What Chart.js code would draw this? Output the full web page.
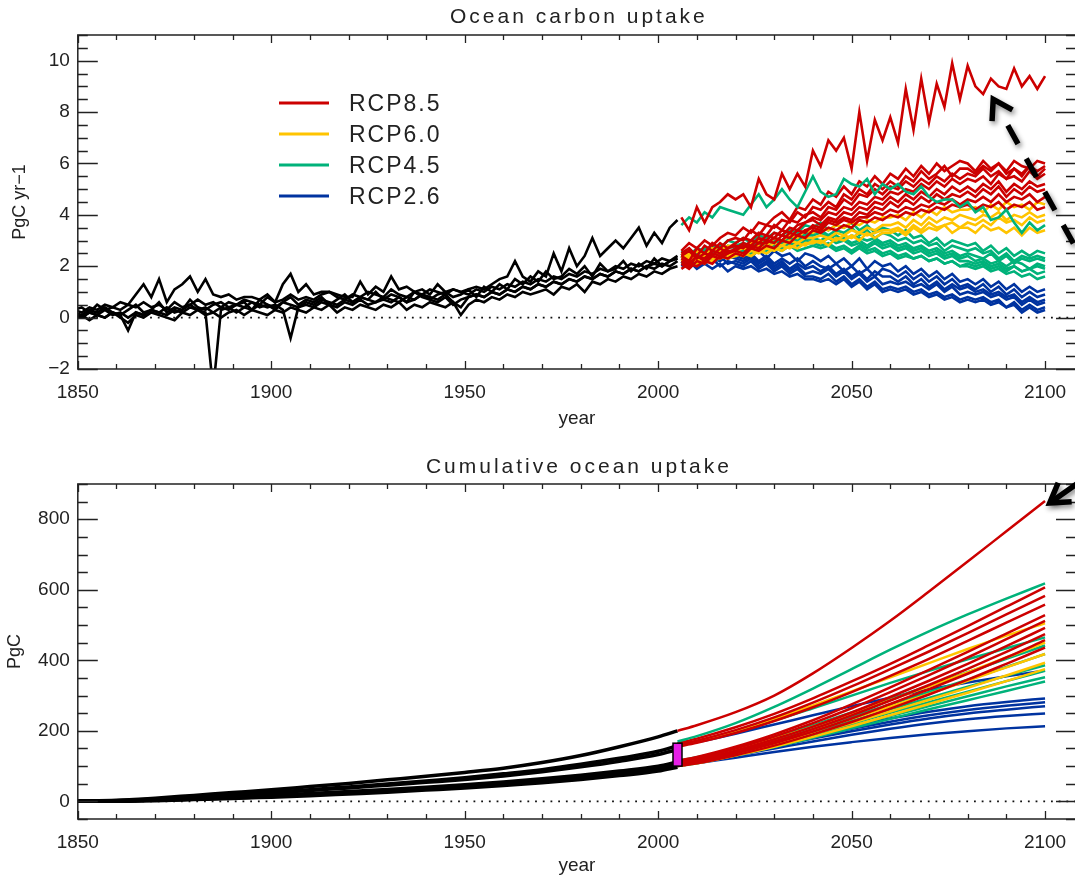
<!DOCTYPE html>
<html>
<head>
<meta charset="utf-8">
<script src="https://cdn.jsdelivr.net/npm/chart.js@4.4.1/dist/chart.umd.min.js"></script>
<style>
  html, body { margin: 0; padding: 0; background: #fff; overflow: hidden; }
  #wrap { position: relative; width: 1075px; height: 879px; overflow: hidden; }
  canvas { position: absolute; left: 0; }
</style>
</head>
<body>
<div id="wrap">
  <canvas id="uptake" width="1080" height="440" style="top:0"></canvas>
  <canvas id="cumulative" width="1080" height="439" style="top:440px"></canvas>
</div>
<script>
// ---- axes ----
const yearTicks = [1850, 1900, 1950, 2000, 2050, 2100];
const uptakeTicks = [-2, 0, 2, 4, 6, 8, 10];
const cumTicks = [0, 200, 400, 600, 800];

const scenarioNames = ['RCP8.5', 'RCP6.0', 'RCP4.5', 'RCP2.6'];
const scenarioColors = ['#cc0000', '#ffc400', '#00b27a', '#0033a0'];

// ---- annual ocean uptake (PgC/yr) ----
// historical runs, one value every 2 years, last value is 2005
const histLast = 2005;
const histRuns = [
  [0.3, 0.2, 0.4, 0.3, 0.5, 0.4, 0.6, 0.5, 0.9, 1.3,
   0.8, 1.5, 0.6, 1.1, 1.3, 1.6, 1.0, 1.5, 0.9, 0.8,
   0.9, 0.7, 0.8, 0.8, 0.7, 0.9, 0.6, 1.3, 1.7, 1.0,
   1.3, 0.9, 1.0, 1.0, 0.9, 0.8, 0.8, 1.4, 0.9, 1.2,
   1.0, 1.6, 1.1, 1.2, 1.0, 1.1, 0.9, 1.3, 1.0, 1.1,
   1.0, 1.1, 1.2, 1.1, 1.3, 1.5, 1.6, 2.2, 1.6, 1.4,
   1.8, 1.6, 2.5, 1.8, 2.7, 2.0, 2.4, 3.1, 2.4, 2.7,
   3.0, 2.7, 3.1, 3.5, 2.8, 3.3, 2.9, 3.5, 3.8],
  [0.1, 0.0, 0.2, 0.1, 0.0, 0.2, 0.1, -0.5, 0.2, 0.1,
   0.3, 0.2, 0.1, 0.3, 0.2, 0.4, 0.3, 0.2, -2.8, 0.3,
   0.4, 0.2, 0.4, 0.3, 0.5, 0.4, 0.5, 0.3, -0.8, 0.4,
   0.5, 0.4, 0.6, 0.5, 0.4, 0.6, 0.5, 0.7, 0.5, 0.6,
   0.7, 0.6, 0.8, 0.6, 0.7, 0.9, 0.7, 0.6, 0.8, 0.5,
   0.7, 0.8, 0.9, 0.8, 1.0, 0.9, 1.1, 1.0, 1.2, 1.1,
   1.3, 1.2, 1.4, 1.3, 1.5, 1.4, 1.6, 1.5, 1.7, 1.6,
   1.8, 1.7, 1.9, 1.8, 2.0, 1.9, 2.1, 2.0, 2.2],
  [0.1, 0.0, 0.2, 0.1, 0.3, 0.1, 0.2, 0.0, 0.2, 0.1,
   0.3, 0.2, 0.4, 0.2, 0.3, 0.5, 0.3, 0.4, 0.2, 0.4,
   0.3, 0.5, 0.4, 0.6, 0.4, 0.5, 0.3, 0.6, 0.5, 0.4,
   0.6, 0.5, 0.7, 0.6, 0.5, 0.7, 0.6, 0.8, 0.7, 0.6,
   0.8, 0.7, 0.6, 0.8, 0.7, 0.9, 0.8, 0.7, 0.9, 0.6,
   0.4, 0.8, 0.9, 0.8, 1.0, 0.9, 1.1, 1.0, 1.2, 1.1,
   1.3, 1.2, 1.4, 1.3, 1.5, 1.4, 1.6, 1.5, 1.7, 1.6,
   1.8, 1.7, 1.9, 1.8, 2.0, 2.1, 2.0, 2.2, 2.3],
  [0.3, 0.4, 0.2, 0.5, 0.3, 0.4, 0.3, 0.5, 0.4, 0.6,
   0.4, 0.5, 0.3, 0.6, 0.4, 0.5, 0.7, 0.5, 0.6, 0.4,
   0.6, 0.5, 0.7, 0.6, 0.5, 0.8, 0.6, 0.7, 0.9, 0.7,
   0.8, 0.7, 0.9, 1.0, 0.8, 0.7, 0.9, 0.8, 1.0, 0.9,
   0.8, 1.1, 0.9, 0.8, 1.0, 0.9, 1.1, 1.0, 0.9, 1.1,
   1.0, 0.9, 1.1, 1.0, 1.2, 1.1, 1.3, 1.2, 1.4, 1.3,
   1.5, 1.4, 1.6, 1.5, 1.7, 1.6, 1.8, 1.7, 1.9, 1.8,
   2.0, 1.9, 2.1, 2.0, 2.2, 2.1, 2.3, 2.2, 2.4],
  [0.0, 0.1, -0.1, 0.1, 0.0, 0.2, 0.0, -0.2, 0.1, 0.0,
   0.2, 0.1, 0.0, -0.1, 0.2, 0.1, 0.3, 0.1, 0.2, 0.0,
   0.2, 0.3, 0.1, 0.3, 0.2, 0.1, 0.3, 0.2, 0.4, 0.3,
   0.2, 0.4, 0.3, 0.5, 0.2, 0.4, 0.3, 0.5, 0.4, 0.3,
   0.5, 0.4, 0.6, 0.3, 0.5, 0.4, 0.6, 0.5, 0.4, 0.6,
   0.1, 0.5, 0.7, 0.6, 0.8, 0.7, 0.9, 0.8, 1.0, 0.9,
   1.0, 1.1, 0.9, 1.2, 1.1, 1.3, 1.0, 1.4, 1.3, 1.5,
   1.4, 1.6, 1.5, 1.7, 1.6, 1.8, 1.7, 1.9, 2.0],
  [0.2, 0.1, 0.3, 0.2, 0.4, 0.2, 0.1, 0.3, 0.5, 0.2,
   0.3, 0.6, 0.2, 0.4, 0.3, 0.7, 0.4, 0.3, 0.5, 0.6,
   0.4, 0.5, 0.6, 0.3, 0.7, 0.5, 0.4, 0.6, 0.8, 0.5,
   0.7, 0.6, 0.8, 0.5, 0.7, 0.9, 0.6, 0.8, 0.7, 1.0,
   0.7, 0.9, 0.8, 0.6, 1.0, 0.8, 0.7, 0.9, 1.0, 0.8,
   0.9, 1.1, 0.8, 1.2, 1.0, 1.3, 1.1, 1.5, 1.3, 1.6,
   1.4, 1.8, 1.5, 1.6, 1.9, 1.7, 2.0, 1.6, 2.1, 1.8,
   1.9, 2.2, 1.8, 2.1, 1.9, 2.3, 2.0, 2.2, 2.3]
];

// scenario runs, one value every 2 years from 2006 to 2100
const scenFirst = 2006;
const rcp85Runs = [
  [3.9, 3.4, 4.3, 3.7, 4.3, 4.5, 4.8, 4.6,
   4.8, 4.3, 5.4, 4.8, 4.6, 5.6, 5.0, 5.6, 5.1, 6.5,
   5.9, 6.9, 6.5, 7.0, 5.8, 8.0, 6.1, 7.7, 6.9, 7.8,
   6.8, 8.9, 7.3, 9.3, 7.6, 9.1, 8.2, 9.9, 8.5, 9.8,
   9.0, 8.7, 9.3, 9.0, 8.9, 9.7, 9.0, 9.4, 8.9, 9.4],
  [2.6, 2.9, 2.7, 3.0, 2.8, 3.1, 3.3, 3.2,
   3.5, 3.3, 3.7, 3.6, 3.9, 4.1, 3.8, 4.3, 4.2, 4.6,
   4.4, 4.9, 4.7, 5.1, 4.8, 5.3, 5.1, 5.5, 5.2, 5.6,
   5.4, 5.8, 5.5, 5.9, 5.6, 6.0, 5.7, 5.9, 6.1, 6.0,
   5.7, 6.1, 5.8, 6.0, 5.7, 6.1, 5.9, 5.8, 6.1, 6.0],
  [2.4, 2.2, 2.7, 2.5, 2.9, 2.7, 3.0, 3.1,
   3.0, 3.4, 3.2, 3.6, 3.5, 3.8, 3.7, 4.1, 3.9, 4.3,
   4.2, 4.5, 4.3, 4.8, 4.6, 5.0, 4.8, 5.2, 5.0, 5.3,
   5.1, 5.5, 5.3, 5.7, 5.4, 5.6, 5.9, 5.5, 5.8, 5.8,
   5.6, 5.9, 5.7, 6.0, 5.6, 5.8, 5.5, 5.9, 5.7, 5.9],
  [2.5, 2.7, 2.4, 2.8, 2.6, 2.9, 2.7, 2.9,
   3.1, 3.0, 3.3, 3.2, 3.6, 3.4, 3.8, 3.7, 4.0, 4.1,
   3.9, 4.3, 4.2, 4.6, 4.4, 4.8, 4.7, 5.0, 4.8, 5.1,
   5.0, 5.3, 5.1, 5.4, 5.2, 5.5, 5.3, 5.6, 5.4, 5.6,
   5.5, 5.8, 5.5, 5.7, 5.4, 5.8, 5.6, 5.9, 5.5, 5.8],
  [2.2, 2.0, 2.4, 2.3, 2.6, 2.5, 2.7, 2.8,
   2.7, 3.0, 2.9, 3.2, 3.1, 3.4, 3.3, 3.6, 3.7, 3.9,
   3.8, 4.1, 4.0, 4.3, 4.2, 4.5, 4.4, 4.7, 4.6, 4.9,
   4.8, 5.0, 4.9, 5.2, 5.0, 5.3, 5.1, 5.4, 5.2, 5.4,
   5.3, 5.5, 5.2, 5.6, 5.4, 5.5, 5.3, 5.7, 5.4, 5.6],
  [2.4, 2.6, 2.3, 2.5, 2.4, 2.7, 2.5, 2.7,
   2.9, 2.8, 3.1, 3.0, 3.3, 3.2, 3.5, 3.4, 3.7, 3.8,
   3.6, 3.9, 3.8, 4.1, 4.0, 4.3, 4.2, 4.5, 4.4, 4.7,
   4.5, 4.8, 4.6, 4.9, 4.7, 5.0, 4.8, 5.1, 4.9, 5.1,
   4.9, 5.2, 5.0, 5.3, 4.9, 5.2, 5.0, 5.3, 5.1, 5.2],
  [2.1, 1.9, 2.2, 2.1, 2.4, 2.3, 2.5, 2.6,
   2.5, 2.8, 2.7, 3.0, 2.9, 3.2, 3.1, 3.4, 3.3, 3.6,
   3.5, 3.8, 3.7, 3.9, 3.8, 4.1, 4.0, 4.3, 4.2, 4.5,
   4.3, 4.6, 4.4, 4.7, 4.5, 4.8, 4.6, 4.8, 4.7, 4.9,
   4.7, 5.0, 4.8, 5.1, 4.7, 5.0, 4.8, 5.1, 4.9, 5.0],
  [2.3, 2.1, 2.4, 2.2, 2.5, 2.4, 2.6, 2.6,
   2.8, 2.7, 2.9, 2.9, 3.1, 3.0, 3.3, 3.2, 3.4, 3.5,
   3.4, 3.7, 3.6, 3.8, 3.7, 3.9, 3.9, 4.1, 4.0, 4.2,
   4.1, 4.3, 4.2, 4.4, 4.3, 4.5, 4.4, 4.6, 4.4, 4.6,
   4.5, 4.7, 4.5, 4.8, 4.5, 4.7, 4.6, 4.8, 4.5, 4.7],
  [1.9, 2.1, 2.0, 2.2, 2.1, 2.4, 2.3, 2.5,
   2.4, 2.7, 2.6, 2.8, 2.7, 3.0, 2.9, 3.2, 3.1, 3.4,
   3.3, 3.5, 3.4, 3.6, 3.5, 3.8, 3.7, 3.9, 3.8, 4.0,
   3.9, 4.1, 4.0, 4.2, 4.1, 4.3, 4.2, 4.4, 4.3, 4.4,
   4.2, 4.4, 4.3, 4.5, 4.2, 4.4, 4.3, 4.5, 4.2, 4.3]
];
const rcp60Runs = [
  [2.5, 2.3, 2.6, 2.4, 2.7, 2.6, 2.8, 2.8,
   2.7, 2.9, 3.0, 2.8, 3.1, 3.0, 3.2, 3.1, 3.4, 3.3,
   3.5, 3.4, 3.6, 3.5, 3.7, 3.6, 3.8, 3.7, 3.9, 3.9,
   4.0, 3.8, 4.1, 3.9, 4.2, 4.0, 4.3, 4.1, 4.2, 4.2,
   4.3, 4.1, 4.4, 4.2, 4.5, 4.3, 4.4, 4.2, 4.5, 4.4],
  [2.3, 2.5, 2.2, 2.4, 2.3, 2.6, 2.4, 2.6,
   2.7, 2.6, 2.8, 2.7, 2.9, 2.8, 3.0, 2.9, 3.1, 3.1,
   3.2, 3.1, 3.3, 3.2, 3.4, 3.3, 3.5, 3.4, 3.6, 3.6,
   3.7, 3.5, 3.8, 3.6, 3.9, 3.7, 3.9, 3.8, 4.0, 3.9,
   3.8, 4.0, 3.9, 4.1, 3.8, 4.0, 3.9, 4.1, 3.9, 4.0],
  [2.4, 2.2, 2.3, 2.1, 2.4, 2.3, 2.5, 2.5,
   2.4, 2.6, 2.5, 2.7, 2.6, 2.8, 2.7, 2.9, 2.8, 3.0,
   2.9, 3.1, 3.0, 3.2, 3.1, 3.3, 3.2, 3.3, 3.4, 3.4,
   3.5, 3.3, 3.6, 3.4, 3.7, 3.5, 3.6, 3.7, 3.5, 3.7,
   3.6, 3.8, 3.6, 3.9, 3.7, 3.8, 3.6, 3.9, 3.7, 3.8],
  [2.2, 2.4, 2.1, 2.3, 2.2, 2.4, 2.3, 2.4,
   2.5, 2.4, 2.6, 2.5, 2.7, 2.6, 2.8, 2.7, 2.9, 2.9,
   3.0, 2.8, 3.1, 3.0, 3.2, 3.0, 3.3, 3.1, 3.3, 3.3,
   3.4, 3.2, 3.5, 3.3, 3.5, 3.4, 3.6, 3.3, 3.5, 3.5,
   3.3, 3.6, 3.4, 3.5, 3.3, 3.5, 3.2, 3.5, 3.3, 3.4]
];
const rcp45Runs = [
  [3.6, 3.9, 3.7, 4.1, 3.9, 4.3, 4.2, 4.1,
   4.0, 4.4, 4.8, 4.3, 4.6, 5.0, 4.6, 4.3, 4.9, 5.5,
   4.9, 4.7, 4.8, 5.4, 5.2, 5.1, 5.4, 4.8, 5.2, 5.0,
   5.2, 4.9, 4.8, 5.1, 4.7, 4.5, 4.6, 4.6, 4.3, 4.5,
   4.1, 4.3, 3.8, 3.9, 4.2, 3.7, 3.3, 3.7, 3.4, 3.6],
  [2.6, 2.4, 2.7, 2.6, 2.8, 2.7, 3.0, 2.9,
   3.1, 2.9, 3.2, 3.1, 3.3, 3.2, 3.4, 3.3, 3.6, 3.5,
   3.7, 3.4, 3.6, 3.5, 3.7, 3.4, 3.6, 3.3, 3.5, 3.4,
   3.2, 3.4, 3.1, 3.2, 2.9, 3.1, 2.8, 3.0, 2.9, 2.8,
   2.9, 2.6, 2.8, 2.5, 2.7, 2.4, 2.6, 2.4, 2.6, 2.5],
  [2.4, 2.6, 2.5, 2.7, 2.6, 2.8, 2.7, 2.8,
   2.9, 2.8, 3.0, 2.9, 3.1, 3.0, 3.2, 3.1, 3.3, 3.3,
   3.4, 3.2, 3.4, 3.3, 3.5, 3.2, 3.4, 3.1, 3.3, 3.2,
   3.0, 3.1, 2.9, 3.0, 2.8, 2.9, 2.6, 2.8, 2.7, 2.6,
   2.7, 2.5, 2.6, 2.3, 2.5, 2.2, 2.4, 2.3, 2.4, 2.3],
  [2.5, 2.3, 2.6, 2.4, 2.7, 2.5, 2.8, 2.7,
   2.8, 2.7, 2.9, 2.8, 3.0, 2.9, 3.1, 3.0, 3.2, 3.2,
   3.3, 3.1, 3.2, 3.0, 3.2, 3.1, 3.0, 3.1, 2.9, 3.0,
   2.8, 2.9, 2.7, 2.8, 2.6, 2.7, 2.5, 2.6, 2.4, 2.5,
   2.4, 2.3, 2.5, 2.2, 2.4, 2.1, 2.3, 2.2, 2.3, 2.2],
  [2.3, 2.5, 2.4, 2.6, 2.5, 2.7, 2.5, 2.6,
   2.8, 2.7, 2.9, 2.8, 3.0, 2.9, 3.1, 2.9, 3.0, 3.1,
   3.0, 3.2, 3.0, 3.1, 2.9, 3.0, 2.8, 3.0, 2.8, 2.9,
   2.7, 2.8, 2.6, 2.7, 2.5, 2.6, 2.4, 2.5, 2.3, 2.4,
   2.2, 2.3, 2.1, 2.2, 2.0, 2.2, 2.1, 1.9, 2.1, 2.0],
  [2.2, 2.4, 2.3, 2.5, 2.4, 2.6, 2.5, 2.6,
   2.7, 2.6, 2.8, 2.7, 2.9, 2.8, 3.0, 2.8, 2.9, 3.0,
   2.9, 3.1, 2.9, 3.0, 2.8, 2.9, 2.7, 2.9, 2.7, 2.8,
   2.6, 2.7, 2.5, 2.6, 2.4, 2.5, 2.3, 2.4, 2.2, 2.2,
   2.1, 2.2, 2.0, 2.1, 1.9, 2.0, 1.8, 1.9, 1.7, 1.8],
  [2.4, 2.2, 2.4, 2.3, 2.5, 2.4, 2.6, 2.5,
   2.6, 2.5, 2.7, 2.6, 2.8, 2.7, 2.9, 2.8, 2.9, 2.9,
   2.8, 2.9, 2.7, 2.8, 2.6, 2.8, 2.6, 2.7, 2.5, 2.6,
   2.4, 2.5, 2.3, 2.4, 2.2, 2.3, 2.1, 2.2, 2.0, 2.0,
   1.9, 2.0, 1.8, 1.9, 1.7, 1.8, 1.6, 1.7, 1.5, 1.6],
  [2.1, 2.3, 2.2, 2.4, 2.2, 2.3, 2.5, 2.4,
   2.5, 2.4, 2.6, 2.5, 2.7, 2.6, 2.8, 2.6, 2.7, 2.8,
   2.7, 2.8, 2.6, 2.7, 2.5, 2.7, 2.5, 2.6, 2.4, 2.5,
   2.3, 2.4, 2.3, 2.4, 2.2, 2.3, 2.1, 2.2, 2.0, 2.1,
   2.0, 2.1, 1.9, 2.0, 1.8, 2.0, 1.8, 1.9, 2.0, 1.9]
];
const rcp26Runs = [
  [2.4, 2.2, 2.5, 2.3, 2.6, 2.4, 2.6, 2.5,
   2.7, 2.4, 2.6, 2.3, 2.6, 2.4, 2.5, 2.2, 2.5, 2.4,
   2.2, 2.4, 2.1, 2.3, 2.0, 2.3, 1.9, 2.2, 2.0, 2.1,
   1.8, 2.0, 1.7, 1.9, 1.6, 1.8, 1.5, 1.7, 1.4, 1.5,
   1.3, 1.5, 1.2, 1.4, 1.1, 1.3, 1.0, 1.2, 1.0, 1.1],
  [2.3, 2.5, 2.2, 2.4, 2.3, 2.5, 2.3, 2.4,
   2.3, 2.5, 2.2, 2.4, 2.1, 2.3, 2.1, 2.3, 2.0, 2.2,
   2.0, 1.9, 2.1, 1.8, 2.0, 1.7, 1.9, 1.6, 1.9, 1.8,
   1.6, 1.8, 1.5, 1.7, 1.4, 1.6, 1.3, 1.5, 1.2, 1.3,
   1.1, 1.3, 1.0, 1.2, 0.9, 1.1, 0.8, 1.0, 0.8, 0.9],
  [2.5, 2.2, 2.4, 2.1, 2.3, 2.2, 2.4, 2.3,
   2.2, 2.4, 2.1, 2.3, 2.0, 2.2, 1.9, 2.1, 1.9, 2.0,
   1.8, 2.0, 1.7, 1.9, 1.6, 1.8, 1.5, 1.8, 1.6, 1.6,
   1.4, 1.6, 1.3, 1.5, 1.2, 1.4, 1.1, 1.3, 1.1, 1.2,
   1.0, 1.1, 0.9, 1.0, 0.8, 0.9, 0.6, 0.8, 0.6, 0.7],
  [2.1, 2.3, 2.1, 2.3, 2.2, 2.4, 2.1, 2.2,
   2.1, 2.3, 2.0, 2.2, 1.9, 2.1, 1.8, 2.0, 1.7, 1.8,
   1.7, 1.9, 1.6, 1.8, 1.5, 1.7, 1.4, 1.6, 1.3, 1.4,
   1.3, 1.4, 1.2, 1.3, 1.1, 1.3, 1.0, 1.2, 0.9, 1.0,
   0.9, 1.0, 0.8, 0.9, 0.7, 0.8, 0.5, 0.7, 0.5, 0.6],
  [2.2, 2.0, 2.3, 2.1, 2.3, 2.0, 2.2, 2.1,
   2.0, 2.2, 1.9, 2.1, 1.8, 2.0, 1.7, 1.9, 1.6, 1.6,
   1.5, 1.7, 1.4, 1.6, 1.3, 1.5, 1.2, 1.4, 1.1, 1.2,
   1.1, 1.2, 1.0, 1.1, 0.9, 1.0, 0.8, 0.9, 0.7, 0.8,
   0.7, 0.8, 0.6, 0.7, 0.4, 0.6, 0.3, 0.5, 0.3, 0.4],
  [2.0, 2.2, 1.9, 2.1, 1.9, 2.1, 1.8, 2.0,
   1.9, 2.0, 1.8, 1.9, 1.7, 1.8, 1.6, 1.7, 1.5, 1.5,
   1.4, 1.5, 1.3, 1.5, 1.2, 1.4, 1.1, 1.3, 1.0, 1.1,
   1.0, 1.1, 0.9, 1.0, 0.8, 0.9, 0.7, 0.8, 0.6, 0.7,
   0.6, 0.7, 0.5, 0.6, 0.4, 0.5, 0.2, 0.4, 0.2, 0.3]
];

// ---- cumulative ocean uptake (PgC) ----
const cumHistYears = [1850, 1860, 1870, 1880, 1890, 1900, 1910, 1920, 1930,
                      1940, 1950, 1960, 1970, 1980, 1990, 2000, 2005];
const cumScenYears = [2005, 2010, 2020, 2030, 2040, 2050, 2060, 2070, 2080, 2090, 2100];
const cumHist = [
  [0, 3, 9, 17, 25, 33, 42, 51, 61, 71, 82, 94, 110, 130, 155, 183, 200],
  [0, 2, 7, 13, 19, 26, 33, 41, 49, 58, 67, 78, 90, 105, 122, 142, 158],
  [0, 2, 6, 12, 18, 24, 31, 38, 46, 54, 62, 72, 84, 98, 114, 133, 147],
  [0, 1, 4, 8, 12, 17, 22, 28, 34, 40, 47, 55, 64, 74, 86, 100, 112],
  [0, 1, 3, 7, 11, 15, 20, 25, 31, 37, 44, 51, 60, 70, 82, 95, 106],
  [0, 1, 3, 6, 10, 14, 19, 24, 29, 35, 41, 48, 56, 66, 77, 90, 101],
  [0, 0, 2, 5, 8, 12, 16, 21, 26, 32, 38, 45, 53, 62, 73, 86, 97]
];
const cum85 = [
  [200, 216, 253, 300, 363, 435, 512, 595, 680, 766, 852],
  [165, 178, 210, 248, 292, 340, 390, 443, 497, 552, 607],
  [160, 172, 202, 238, 280, 326, 375, 425, 477, 530, 583],
  [155, 166, 194, 228, 267, 310, 356, 404, 455, 507, 558],
  [115, 126, 155, 190, 230, 275, 323, 373, 424, 476, 528],
  [112, 122, 150, 184, 222, 264, 310, 358, 408, 460, 512],
  [108, 118, 144, 176, 212, 252, 296, 342, 390, 440, 492],
  [105, 114, 140, 170, 205, 244, 286, 330, 376, 424, 474],
  [102, 111, 136, 165, 198, 235, 276, 318, 362, 408, 457],
  [100, 108, 131, 158, 190, 225, 263, 303, 345, 390, 436]
];
const cum60 = [
  [160, 171, 200, 234, 272, 312, 352, 392, 432, 470, 505],
  [112, 122, 148, 178, 212, 249, 287, 326, 366, 408, 450],
  [108, 117, 141, 169, 200, 234, 269, 305, 342, 380, 418],
  [104, 113, 136, 162, 191, 222, 255, 288, 322, 357, 393],
  [100, 108, 130, 155, 183, 213, 244, 276, 308, 341, 375]
];
const cum45 = [
  [170, 185, 222, 268, 320, 375, 430, 482, 530, 575, 618],
  [158, 169, 197, 229, 264, 300, 336, 370, 403, 434, 465],
  [115, 125, 151, 182, 216, 252, 290, 328, 366, 404, 442],
  [110, 120, 145, 174, 206, 240, 275, 310, 345, 381, 418],
  [106, 115, 139, 166, 196, 228, 261, 293, 325, 356, 386],
  [104, 113, 136, 162, 190, 220, 251, 281, 311, 341, 370],
  [102, 110, 133, 158, 185, 213, 242, 270, 298, 326, 352],
  [100, 108, 130, 154, 180, 207, 234, 261, 287, 313, 340]
];
const cum26 = [
  [158, 168, 192, 218, 244, 270, 294, 317, 337, 355, 371],
  [112, 121, 143, 167, 191, 214, 235, 254, 270, 282, 292],
  [108, 117, 138, 161, 184, 206, 226, 244, 259, 271, 281],
  [105, 114, 134, 156, 178, 199, 218, 235, 249, 260, 270],
  [103, 111, 130, 150, 170, 189, 206, 221, 233, 242, 249],
  [100, 108, 124, 140, 155, 168, 180, 190, 199, 207, 213]
];

// spread of the historical runs at the end of 2005 (PgC)
const histSpread2005 = { year: 2005, low: 100, high: 165 };

// arrows, in data units [year, value]
const uptakeArrow = { from: [2111.7, 1.7], to: [2086.6, 8.5], dashed: true };
const cumArrow = { from: [2110.5, 918], to: [2101.2, 846], dashed: false };

// ---- helpers ----
const FONT = '"Liberation Sans", Arial, sans-serif';
const INK = '#222';

function histPoints(vals) {
  const n = vals.length;
  return vals.map((v, i) => ({ x: histLast - 2 * (n - 1 - i), y: v }));
}
function scenPoints(vals) {
  return vals.map((v, i) => ({ x: scenFirst + 2 * i, y: v }));
}
function yearPoints(years, vals) {
  return vals.map((v, i) => ({ x: years[i], y: v }));
}
function line(data, color, width, extra) {
  return Object.assign({ data, borderColor: color, borderWidth: width, pointRadius: 0, fill: false, tension: 0 }, extra || {});
}

// IDL-style frame: inward ticks on all four sides, dotted zero line, title, legend, arrow
const idlFrame = {
  id: 'idlFrame',
  beforeDatasetsDraw(chart, args, o) {
    const { ctx, chartArea: a, scales: { y } } = chart;
    const y0 = y.getPixelForValue(0);
    ctx.save();
    ctx.strokeStyle = '#111';
    ctx.lineWidth = 1.8;
    ctx.setLineDash([1.8, 5.9]);
    ctx.beginPath();
    ctx.moveTo(a.left + 3, y0);
    ctx.lineTo(a.right, y0);
    ctx.stroke();
    ctx.restore();
  },
  afterDraw(chart, args, o) {
    const { ctx, chartArea: a, scales: { x, y } } = chart;
    ctx.save();
    ctx.strokeStyle = INK;
    ctx.lineWidth = 1.5;
    ctx.strokeRect(a.left, a.top, a.right - a.left, a.bottom - a.top);

    ctx.beginPath();
    for (let v = x.min; v <= x.max; v += o.xMinor) {
      const px = Math.round(x.getPixelForValue(v)) + 0.5;
      const len = v % o.xMajor === 0 ? 8 : 5;
      ctx.moveTo(px, a.bottom); ctx.lineTo(px, a.bottom - len);
      ctx.moveTo(px, a.top); ctx.lineTo(px, a.top + len);
    }
    for (let k = Math.ceil(y.min / o.yMinor); k * o.yMinor <= y.max + 1e-9; k++) {
      const v = k * o.yMinor;
      const py = Math.round(y.getPixelForValue(v)) + 0.5;
      const len = Math.abs(v % o.yMajor) < 1e-9 ? 20 : 10;
      ctx.moveTo(a.left, py); ctx.lineTo(a.left + len, py);
      ctx.moveTo(a.right, py); ctx.lineTo(a.right - len, py);
    }
    ctx.lineWidth = 1.3;
    ctx.stroke();

    // spread marker at the end of the historical period
    if (o.marker) {
      const mx = x.getPixelForValue(o.marker.year);
      const top = y.getPixelForValue(o.marker.high);
      const bot = y.getPixelForValue(o.marker.low);
      ctx.fillStyle = '#e61ee6';
      ctx.fillRect(mx - 4.5, top, 9, bot - top);
      ctx.strokeStyle = '#000';
      ctx.lineWidth = 1.5;
      ctx.strokeRect(mx - 4.5, top, 9, bot - top);
    }

    // title
    ctx.fillStyle = INK;
    ctx.font = '21px ' + FONT;
    ctx.letterSpacing = '3px';
    ctx.textAlign = 'center';
    ctx.textBaseline = 'middle';
    ctx.fillText(o.title, (a.left + a.right) / 2 + 2, o.titleY);

    // scenario legend
    if (o.legend) {
      ctx.font = '23px ' + FONT;
      ctx.letterSpacing = '2px';
      ctx.textAlign = 'left';
      scenarioNames.forEach((name, i) => {
        const ly = o.legend.y + i * o.legend.gap;
        ctx.strokeStyle = scenarioColors[i];
        ctx.lineWidth = 3;
        ctx.beginPath();
        ctx.moveTo(o.legend.x, ly);
        ctx.lineTo(o.legend.x + 50, ly);
        ctx.stroke();
        ctx.fillText(name, o.legend.x + 70, ly + 2);
      });
    }

    // annotation arrow
    if (o.arrow) {
      const x1 = x.getPixelForValue(o.arrow.from[0]), y1 = y.getPixelForValue(o.arrow.from[1]);
      const x2 = x.getPixelForValue(o.arrow.to[0]), y2 = y.getPixelForValue(o.arrow.to[1]);
      const ang = Math.atan2(y1 - y2, x1 - x2);
      ctx.shadowColor = 'rgba(0,0,0,0.45)';
      ctx.shadowBlur = 5;
      ctx.shadowOffsetX = 2;
      ctx.shadowOffsetY = 3;
      ctx.strokeStyle = '#000';
      ctx.lineWidth = 5.5;
      ctx.beginPath();
      if (o.arrow.dashed) {
        ctx.setLineDash([21, 17]);
        ctx.moveTo(x2 + 30 * Math.cos(ang), y2 + 30 * Math.sin(ang));
      } else {
        ctx.moveTo(x2 + 3 * Math.cos(ang), y2 + 3 * Math.sin(ang));
      }
      ctx.lineTo(x1, y1);
      ctx.stroke();
      ctx.setLineDash([]);
      const arm = 22, spread = 0.56;
      ctx.lineJoin = 'miter';
      ctx.beginPath();
      ctx.moveTo(x2 + arm * Math.cos(ang - spread), y2 + arm * Math.sin(ang - spread));
      ctx.lineTo(x2, y2);
      ctx.lineTo(x2 + arm * Math.cos(ang + spread), y2 + arm * Math.sin(ang + spread));
      ctx.stroke();
    }
    ctx.restore();
  }
};

function makeChart(id, datasets, cfg) {
  const tickFont = { family: FONT, size: 19 };
  return new Chart(document.getElementById(id), {
    type: 'line',
    data: { datasets },
    plugins: [idlFrame],
    options: {
      responsive: false,
      animation: false,
      events: [],
      layout: { padding: { top: cfg.padTop, right: 4, bottom: 0, left: 0 } },
      plugins: {
        legend: { display: false },
        tooltip: { enabled: false },
        idlFrame: cfg.frame
      },
      scales: {
        x: {
          type: 'linear', min: 1850, max: 2108,
          grid: { display: false, drawTicks: false },
          border: { display: false },
          afterBuildTicks: s => { s.ticks = yearTicks.map(v => ({ value: v })); },
          afterFit: s => { s.height = cfg.xHeight; },
          ticks: { font: tickFont, color: INK, padding: cfg.xTickPad, maxRotation: 0, autoSkip: false,
                   callback: v => String(v) },
          title: { display: true, text: 'year', font: tickFont, color: INK,
                   padding: { top: 0, bottom: cfg.yearPad } }
        },
        y: {
          type: 'linear', min: cfg.yMin, max: cfg.yMax,
          grid: { display: false, drawTicks: false },
          border: { display: false },
          afterBuildTicks: s => { s.ticks = cfg.yTicks.map(v => ({ value: v })); },
          afterFit: s => { s.width = 77.8; },
          ticks: { font: tickFont, color: INK, padding: 8, autoSkip: false,
                   callback: v => (v < 0 ? '\u2212' + Math.abs(v) : String(v)) },
          title: { display: true, text: cfg.yLabel, font: { family: FONT, size: 18 }, color: INK,
                   padding: { top: cfg.yTitlePad, bottom: 0 } }
        }
      }
    }
  });
}

// ---- annual uptake panel ----
const RED = scenarioColors[0], YEL = scenarioColors[1], GRN = scenarioColors[2], BLU = scenarioColors[3];
const W = 2.6;
let upSets = [];
histRuns.forEach(r => upSets.push(line(histPoints(r), '#000', W)));
rcp26Runs.forEach(r => upSets.push(line(scenPoints(r), BLU, W)));
rcp45Runs.slice(1).forEach(r => upSets.push(line(scenPoints(r), GRN, W)));
rcp60Runs.forEach(r => upSets.push(line(scenPoints(r), YEL, W)));
rcp85Runs.slice(1).forEach(r => upSets.push(line(scenPoints(r), RED, W)));
upSets.push(line(scenPoints(rcp45Runs[0]), GRN, W));
upSets.push(line(scenPoints(rcp85Runs[0]), RED, W));
// Chart.js paints the first dataset last, so put the top layer first
upSets.reverse();

makeChart('uptake', upSets, {
  padTop: 35, xHeight: 71, xTickPad: 12, yearPad: 10,
  yMin: -2, yMax: 11, yTicks: uptakeTicks, yLabel: 'PgC yr\u22121', yTitlePad: 9,
  frame: {
    xMinor: 10, xMajor: 50, yMinor: 0.5, yMajor: 2,
    title: 'Ocean carbon uptake', titleY: 17,
    legend: { x: 279, y: 103, gap: 31 },
    arrow: uptakeArrow
  }
});

// ---- cumulative panel ----
const smooth = { cubicInterpolationMode: 'monotone' };
let cumSets = [];
cumHist.forEach(r => cumSets.push(line(yearPoints(cumHistYears, r), '#000', 3.5, smooth)));
cum26.forEach(r => cumSets.push(line(yearPoints(cumScenYears, r), BLU, 2.5, smooth)));
cum45.slice(1).forEach(r => cumSets.push(line(yearPoints(cumScenYears, r), GRN, 2.5, smooth)));
cum60.forEach(r => cumSets.push(line(yearPoints(cumScenYears, r), YEL, 2.5, smooth)));
cum85.slice(1).forEach(r => cumSets.push(line(yearPoints(cumScenYears, r), RED, 2.5, smooth)));
cumSets.push(line(yearPoints(cumScenYears, cum45[0]), GRN, 2.5, smooth));
cumSets.push(line(yearPoints(cumScenYears, cum85[0]), RED, 2.5, smooth));
cumSets.reverse();

makeChart('cumulative', cumSets, {
  padTop: 44, xHeight: 60, xTickPad: 12, yearPad: 2,
  yMin: -50, yMax: 900, yTicks: cumTicks, yLabel: 'PgC', yTitlePad: 4,
  frame: {
    xMinor: 10, xMajor: 50, yMinor: 50, yMajor: 200,
    title: 'Cumulative ocean uptake', titleY: 27,
    marker: histSpread2005,
    arrow: cumArrow
  }
});
</script>
</body>
</html>
